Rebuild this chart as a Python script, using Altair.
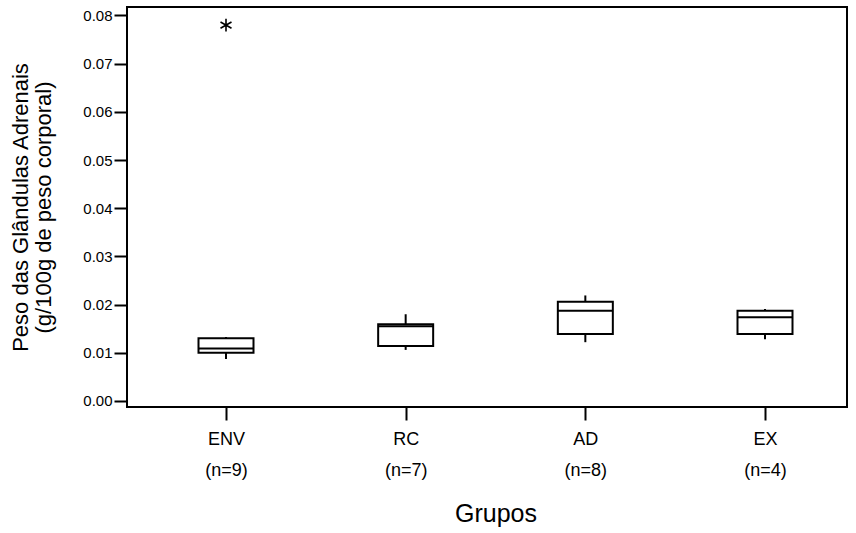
import altair as alt
import pandas as pd

# Grupos experimentais e tamanho amostral
grupos = ["ENV", "RC", "AD", "EX"]
n_amostra = [9, 7, 8, 4]

# Resumo dos boxplots (g/100g de peso corporal)
minimo = [0.0087, 0.0106, 0.0122, 0.0128]
q1 = [0.0100, 0.0114, 0.0139, 0.0139]
mediana = [0.0109, 0.0155, 0.0187, 0.0174]
q3 = [0.0130, 0.0159, 0.0206, 0.0187]
maximo = [0.0133, 0.0180, 0.0219, 0.0191]

# Valores extremos
extremo_grupo = ["ENV"]
extremo_valor = [0.078]

y_ticks = [0.00, 0.01, 0.02, 0.03, 0.04, 0.05, 0.06, 0.07, 0.08]

resumo = pd.DataFrame({
    "grupo": grupos,
    "min": minimo,
    "q1": q1,
    "med": mediana,
    "q3": q3,
    "max": maximo,
})
extremos = pd.DataFrame({"grupo": extremo_grupo, "valor": extremo_valor})

label_expr = ""
for g, n in zip(grupos, n_amostra):
    label_expr += f"datum.value == '{g}' ? ['{g}', '(n={n})'] : "
label_expr += "datum.label"

FONT = "Liberation Sans"

x_enc = alt.X(
    "grupo:N",
    scale=alt.Scale(type="point", domain=grupos, range=[99, 638], padding=0),
    axis=alt.Axis(
        title="Grupos",
        labelExpr=label_expr,
        labelAngle=0,
        labelFontSize=18,
        labelLineHeight=31,
        labelPadding=10,
        tickSize=13,
        tickWidth=2,
        tickColor="black",
        domain=False,
        titleFontSize=25,
        titleFontWeight="normal",
        titlePadding=22,
    ),
)

y_scale = alt.Scale(domain=[-0.00125, 0.08176], nice=False, zero=False)
y_axis = alt.Axis(
    title=["Peso das Glândulas Adrenais", "(g/100g de peso corporal)"],
    values=y_ticks,
    format=".2f",
    labelFontSize=15,
    labelPadding=2,
    tickSize=13,
    tickWidth=2,
    tickColor="black",
    domain=False,
    grid=False,
    titleFontSize=22,
    titleFontWeight="normal",
    titleLineHeight=23,
    titlePadding=27,
)

base = alt.Chart(resumo)

lower_whisker = base.mark_rule(color="black", strokeWidth=2).encode(
    x=x_enc, y=alt.Y("min:Q", scale=y_scale, axis=y_axis), y2="q1:Q"
)
upper_whisker = base.mark_rule(color="black", strokeWidth=2).encode(
    x=x_enc, y=alt.Y("q3:Q", scale=y_scale, axis=y_axis), y2="max:Q"
)
box = base.mark_bar(
    size=55, fill="white", stroke="black", strokeWidth=2, opacity=1
).encode(x=x_enc, y=alt.Y("q1:Q", scale=y_scale, axis=y_axis), y2="q3:Q")
median = base.mark_tick(
    color="black", size=55, thickness=2, orient="horizontal", opacity=1
).encode(x=x_enc, y=alt.Y("med:Q", scale=y_scale, axis=y_axis))

asterisk = "M0,-1L0,1M-0.87,-0.5L0.87,0.5M-0.87,0.5L0.87,-0.5"
outliers = alt.Chart(extremos).mark_point(
    shape=asterisk, size=160, stroke="black", strokeWidth=1.6,
    filled=False, opacity=1
).encode(x=x_enc, y=alt.Y("valor:Q", scale=y_scale, axis=y_axis))

chart = (
    alt.layer(lower_whisker, upper_whisker, box, median, outliers)
    .properties(
        width=720,
        height=400,
        autosize=alt.AutoSizeParams(type="none"),
        padding={"left": 127, "top": 7, "right": 9, "bottom": 126},
        background="white",
    )
    .configure_view(stroke="black", strokeWidth=2)
    .configure_axis(
        labelFont=FONT,
        titleFont=FONT,
        labelColor="black",
        titleColor="black",
    )
)

chart.save("out.html", embed_options={"renderer": "svg", "actions": False})
